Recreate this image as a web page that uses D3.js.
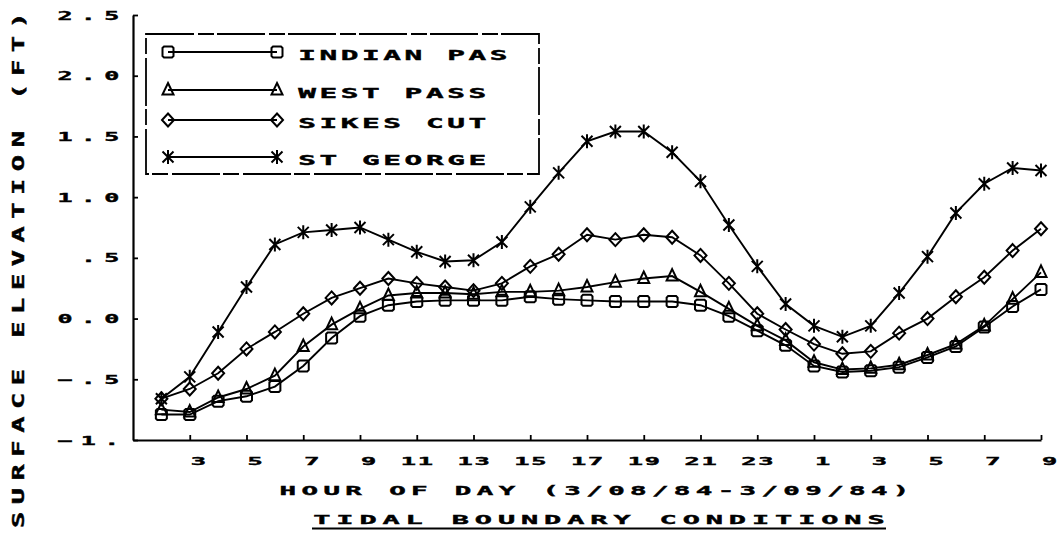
<!DOCTYPE html>
<html>
<head>
<meta charset="utf-8">
<script src="https://cdn.jsdelivr.net/npm/d3@7"></script>
<style>
  html, body { margin: 0; background: #fff; }
</style>
</head>
<body>
<svg id="chart" width="1064" height="540"></svg>
<script>
// hours 2..24 are 3/08, 25..33 are 1..9 on 3/09
const hours = d3.range(2, 34);

const indianPas = [-0.79, -0.79, -0.68, -0.64, -0.56, -0.39, -0.16, 0.02,
  0.11, 0.14, 0.15, 0.15, 0.15, 0.18, 0.16, 0.15, 0.14, 0.14, 0.14,
  0.11, 0.02, -0.10, -0.22, -0.39, -0.44, -0.43, -0.40, -0.32, -0.23, -0.07, 0.10, 0.24];
const westPass = [-0.75, -0.77, -0.65, -0.58, -0.47, -0.23, -0.05, 0.08,
  0.19, 0.21, 0.21, 0.20, 0.22, 0.22, 0.23, 0.26, 0.30, 0.33, 0.35,
  0.22, 0.08, -0.06, -0.18, -0.36, -0.42, -0.41, -0.38, -0.30, -0.21, -0.06, 0.16, 0.38];
const sikesCut = [-0.66, -0.58, -0.45, -0.25, -0.11, 0.04, 0.17, 0.25,
  0.33, 0.29, 0.26, 0.23, 0.29, 0.43, 0.53, 0.69, 0.65, 0.69, 0.67,
  0.52, 0.29, 0.04, -0.09, -0.21, -0.29, -0.27, -0.12, 0.00, 0.18, 0.34, 0.56, 0.74];
const stGeorge = [-0.66, -0.48, -0.11, 0.26, 0.61, 0.71, 0.73, 0.75,
  0.65, 0.55, 0.47, 0.48, 0.63, 0.92, 1.20, 1.46, 1.54, 1.54, 1.37,
  1.13, 0.77, 0.43, 0.12, -0.06, -0.15, -0.06, 0.21, 0.51, 0.87, 1.11, 1.24, 1.22];

const seriesNames = ['INDIAN PAS', 'WEST PASS', 'SIKES CUT', 'ST GEORGE'];
const seriesValues = [indianPas, westPass, sikesCut, stGeorge];
const seriesMarkers = ['square', 'triangle', 'diamond', 'star'];

const yTicks = [-1, -0.5, 0, 0.5, 1, 1.5, 2, 2.5];
const yTickLabels = ['\u22121.', '\u2212.5', '0.0', '.5', '1.0', '1.5', '2.0', '2.5'];
const xTicks = d3.range(3, 34, 2);
const xTickLabels = ['3', '5', '7', '9', '11', '13', '15', '17', '19', '21', '23', '1', '3', '5', '7', '9'];

const yTitle = 'SURFACE ELEVATION (FT)';
const xTitle = 'HOUR OF DAY (3/08/84-3/09/84)';
const caption = 'TIDAL BOUNDARY CONDITIONS';

const svg = d3.select('#chart');
const x = d3.scaleLinear().domain([1, 33]).range([133, 1041]);
const y = d3.scaleLinear().domain([-1, 2.5]).range([440, 15]);

const FONT = 'DejaVu Sans Mono';

// wide blocky plotter lettering: cx0 = centre of first char, cy = centre of capitals
function blockText(g, str, cx0, cy, o) {
  const adv = 0.602 * o.size, cap = 0.73 * o.size;
  return g.append('text')
    .attr('transform', `translate(${cx0 - adv * o.sx / 2},${cy + cap / 2}) scale(${o.sx},1)`)
    .attr('font-family', FONT)
    .attr('font-weight', 'bold')
    .attr('font-size', o.size)
    .attr('fill', '#000')
    .attr('stroke', '#000')
    .attr('stroke-width', o.weight || 0.4)
    .style('letter-spacing', `${o.pitch / o.sx - adv}px`)
    .text(str);
}
const centred = (str, cx, pitch) => cx - (str.length - 1) * pitch / 2;

// marker shapes
function markerPath(type) {
  const p = d3.path();
  if (type === 'square') {
    p.moveTo(-4, -5.5); p.lineTo(4, -5.5); p.lineTo(5.5, -4); p.lineTo(5.5, 4);
    p.lineTo(4, 5.5); p.lineTo(-4, 5.5); p.lineTo(-5.5, 4); p.lineTo(-5.5, -4); p.closePath();
  } else if (type === 'triangle') {
    p.moveTo(0, -7); p.lineTo(5.5, 4.5); p.lineTo(-5.5, 4.5); p.closePath();
  } else if (type === 'diamond') {
    p.moveTo(0, -6.5); p.lineTo(6, 0); p.lineTo(0, 6.5); p.lineTo(-6, 0); p.closePath();
  } else {
    p.moveTo(-5.5, -5.5); p.lineTo(5.5, 5.5);
    p.moveTo(-5.5, 5.5); p.lineTo(5.5, -5.5);
    p.moveTo(0, -7); p.lineTo(0, 7);
  }
  return p.toString();
}

// axes
const yAxis = svg.append('g')
  .attr('transform', `translate(${x(1)},0)`)
  .call(d3.axisRight(y).tickValues(yTicks).tickSize(5).tickSizeOuter(0).tickFormat(''));
const xAxis = svg.append('g')
  .attr('transform', `translate(0,${y(-1)})`)
  .call(d3.axisTop(x).tickValues(xTicks).tickSize(5).tickSizeOuter(0).tickFormat(''));
[yAxis, xAxis].forEach(a => {
  a.select('.domain').attr('stroke', '#000').attr('stroke-width', 2.2);
  a.selectAll('.tick line').attr('stroke', '#000').attr('stroke-width', 1.8);
});

// y tick labels, right aligned in a 3 char field
const labels = svg.append('g');
yTicks.forEach((v, i) => {
  const s = yTickLabels[i];
  blockText(labels, s, 111.7 - (s.length - 1) * 23.3, y(v), { size: 12.5, sx: 2.0, pitch: 23.3 });
});

// x tick labels, right aligned in a 2 char field centred on the tick
xTicks.forEach((h, i) => {
  const s = xTickLabels[i];
  blockText(labels, s, x(h) + 8.5 - (s.length - 1) * 17, 461, { size: 11, sx: 2.3, pitch: 17 });
});

// titles
blockText(labels, xTitle, centred(xTitle, 594.5, 21.9), 490, { size: 12.5, sx: 2.2, pitch: 21.9 });
blockText(labels, caption, centred(caption, 599, 23.1), 519, { size: 13, sx: 2.2, pitch: 23.1 });
labels.append('line')
  .attr('x1', 312).attr('x2', 886).attr('y1', 528.5).attr('y2', 528.5)
  .attr('stroke', '#000').attr('stroke-width', 2);

const yt = labels.append('g').attr('transform', 'translate(19,270) rotate(-90)');
blockText(yt, yTitle, centred(yTitle, 0, 23.8), 0, { size: 15, sx: 1.8, pitch: 23.8 });

// series lines and markers
const line = d3.line().x((d, i) => x(hours[i])).y(d => y(d));
const plot = svg.append('g');
seriesValues.forEach((vals, s) => {
  plot.append('path')
    .attr('d', line(vals))
    .attr('fill', 'none')
    .attr('stroke', '#000')
    .attr('stroke-width', 1.9);
  plot.selectAll(null)
    .data(vals)
    .enter()
    .append('path')
    .attr('transform', (d, i) => `translate(${x(hours[i])},${y(d)})`)
    .attr('d', markerPath(seriesMarkers[s]))
    .attr('fill', 'none')
    .attr('stroke', '#000')
    .attr('stroke-width', 2);
});

// legend
const legend = svg.append('g');
legend.append('rect')
  .attr('x', 146).attr('y', 34).attr('width', 393).attr('height', 140)
  .attr('fill', 'none').attr('stroke', '#000').attr('stroke-width', 1.8)
  .attr('stroke-dasharray', '48 4 16 3');
const rowY = [52, 90, 120, 157];
seriesNames.forEach((name, s) => {
  const ry = rowY[s];
  legend.append('line')
    .attr('x1', 168).attr('x2', 277).attr('y1', ry).attr('y2', ry)
    .attr('stroke', '#000').attr('stroke-width', 1.8);
  [168, 277].forEach(mx => {
    legend.append('path')
      .attr('transform', `translate(${mx},${ry})`)
      .attr('d', markerPath(seriesMarkers[s]))
      .attr('fill', 'none')
      .attr('stroke', '#000').attr('stroke-width', 2);
  });
  blockText(legend, name, 307, ry + 3, { size: 14, sx: 2.1, pitch: 21.3 });
});
</script>
</body>
</html>
